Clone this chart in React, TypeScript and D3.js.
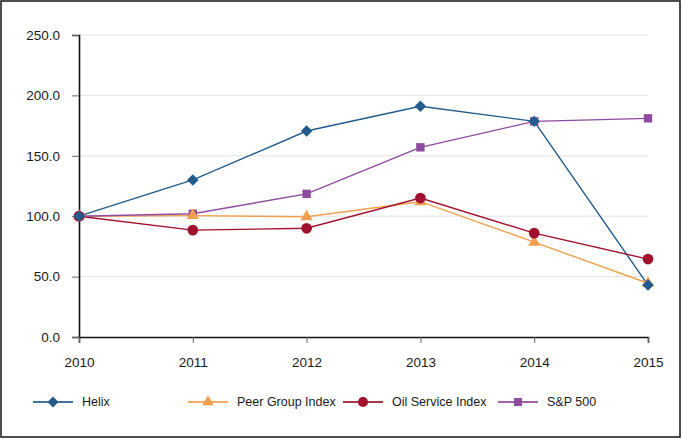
import { useEffect, useRef } from "react";
import * as d3 from "d3";

const years = [2010, 2011, 2012, 2013, 2014, 2015];
const helix = [100, 130, 170.5, 191, 178.5, 43];
const peerGroup = [100, 100.5, 99.5, 112, 78.5, 44.5];
const oilService = [100, 88.5, 90, 115, 86, 64.5];
const sp500 = [100, 102, 118.5, 157, 178.5, 181];
const yTicks = [0, 50, 100, 150, 200, 250];

interface Series {
  name: string;
  values: number[];
  color: string;
  symbol: d3.SymbolType;
  size: number;
  rotate: number;
  legendX: number;
}

const series: Series[] = [
  { name: "Helix", values: helix, color: "#235b8d", symbol: d3.symbolSquare, size: 66, rotate: 45, legendX: 33 },
  { name: "Peer Group Index", values: peerGroup, color: "#f0a04e", symbol: d3.symbolTriangle, size: 64, rotate: 0, legendX: 188 },
  { name: "Oil Service Index", values: oilService, color: "#a1102c", symbol: d3.symbolCircle, size: 90, rotate: 0, legendX: 343 },
  { name: "S&P 500", values: sp500, color: "#8f4b9f", symbol: d3.symbolSquare, size: 70, rotate: 0, legendX: 498 },
];

// draw order for markers: helix on top
const markerOrder = [3, 1, 2, 0];

export default function App() {
  const svgRef = useRef<SVGSVGElement>(null);

  useEffect(() => {
    const W = 682;
    const H = 440;
    const margin = { top: 35, right: 34, bottom: 103, left: 79 };
    const width = W - margin.left - margin.right;
    const height = H - margin.top - margin.bottom;
    const font = "Liberation Sans, Arial, sans-serif";

    const svg = d3.select(svgRef.current);
    svg.selectAll("*").remove();
    svg.attr("width", W).attr("height", H);

    svg
      .append("rect")
      .attr("x", 1)
      .attr("y", 1)
      .attr("width", 679)
      .attr("height", 436)
      .attr("fill", "#fff")
      .attr("stroke", "#222")
      .attr("stroke-width", 1.6);

    const g = svg.append("g").attr("transform", `translate(${margin.left},${margin.top})`);

    const x = d3.scalePoint<number>().domain(years).range([0, width]);
    const y = d3.scaleLinear().domain([0, 250]).range([height, 0]);

    // Gridlines
    g.selectAll(".grid")
      .data(yTicks.filter((t) => t > 0))
      .enter()
      .append("line")
      .attr("x1", 0)
      .attr("x2", width)
      .attr("y1", (d) => y(d))
      .attr("y2", (d) => y(d))
      .attr("stroke", "#e3e3e3")
      .attr("stroke-width", 1);

    // Axes
    const yAxis = g
      .append("g")
      .call(
        d3
          .axisLeft(y)
          .tickValues(yTicks)
          .tickFormat((d) => d3.format(".1f")(d as number))
          .tickSize(7)
          .tickPadding(12)
      );
    yAxis.select(".domain").attr("stroke", "#111").attr("stroke-width", 1.6);
    yAxis.selectAll(".tick line").attr("stroke", "#666");

    const xAxis = g
      .append("g")
      .attr("transform", `translate(0,${height})`)
      .call(d3.axisBottom(x).tickSize(6).tickPadding(14));
    xAxis.select(".domain").attr("stroke", "#111").attr("stroke-width", 1.6);
    xAxis.selectAll(".tick line").attr("stroke", "#666");

    svg
      .selectAll(".tick text")
      .attr("font-family", font)
      .attr("font-size", 13.5)
      .attr("fill", "#1a1a1a");

    const line = d3
      .line<number>()
      .x((_, i) => x(years[i]) as number)
      .y((d) => y(d));

    series.forEach((s) => {
      g.append("path")
        .datum(s.values)
        .attr("fill", "none")
        .attr("stroke", s.color)
        .attr("stroke-width", 1.4)
        .attr("d", line);
    });

    markerOrder.forEach((k) => {
      const s = series[k];
      g.selectAll(null)
        .data(s.values)
        .enter()
        .append("path")
        .attr("d", d3.symbol().type(s.symbol).size(s.size)())
        .attr("transform", (d, i) => `translate(${x(years[i])},${y(d)}) rotate(${s.rotate})`)
        .attr("fill", s.color);
    });

    // Legend
    const ly = 402;
    series.forEach((s) => {
      const lg = svg.append("g");
      lg.append("line")
        .attr("x1", s.legendX)
        .attr("x2", s.legendX + 40)
        .attr("y1", ly)
        .attr("y2", ly)
        .attr("stroke", s.color)
        .attr("stroke-width", 2.2)
        .attr("opacity", 0.85);
      lg.append("path")
        .attr("d", d3.symbol().type(s.symbol).size(s.size * 0.9)())
        .attr("transform", `translate(${s.legendX + 20},${ly}) rotate(${s.rotate})`)
        .attr("fill", s.color);
      lg.append("text")
        .attr("x", s.legendX + 49)
        .attr("y", ly)
        .attr("dy", "0.35em")
        .attr("font-family", font)
        .attr("font-size", 12.5)
        .attr("fill", "#1a1a1a")
        .text(s.name);
    });
  }, []);

  return <svg ref={svgRef} style={{ position: "absolute", left: 0, top: 0 }} />;
}
